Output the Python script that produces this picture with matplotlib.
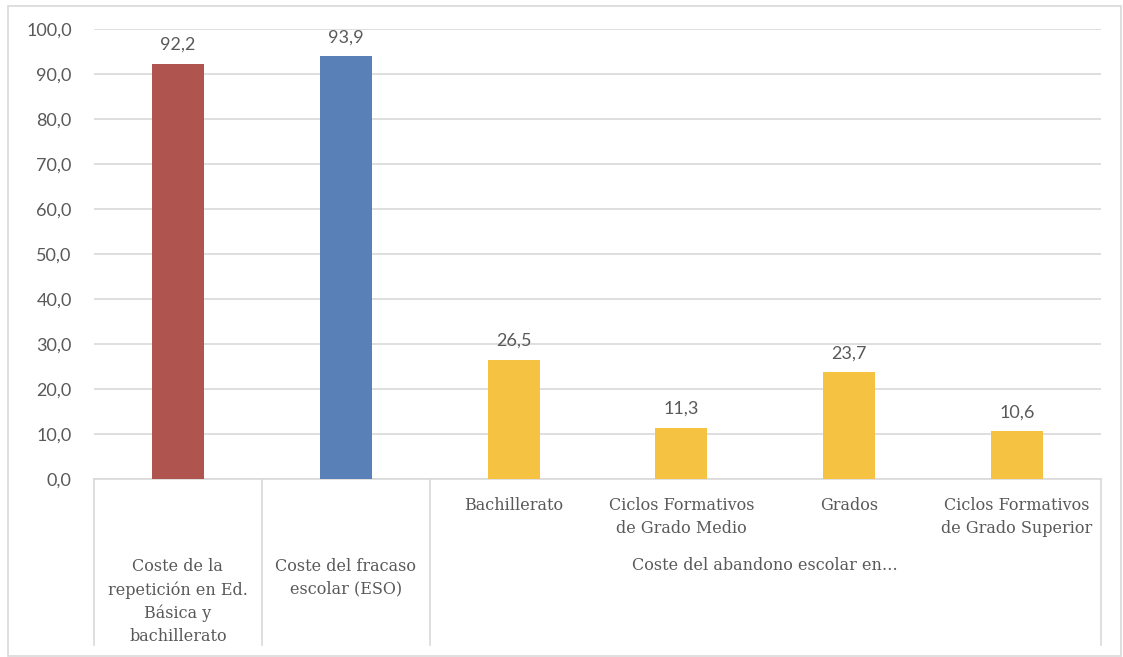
import matplotlib
matplotlib.use("Agg")
import matplotlib.pyplot as plt
from matplotlib.patches import Rectangle
import matplotlib.transforms as mtransforms

categories = ["Coste de la\nrepetición en Ed.\nBásica y\nbachillerato",
              "Coste del fracaso\nescolar (ESO)",
              "Bachillerato",
              "Ciclos Formativos\nde Grado Medio",
              "Grados",
              "Ciclos Formativos\nde Grado Superior"]
values = [92.2, 93.9, 26.5, 11.3, 23.7, 10.6]
value_labels = ["92,2", "93,9", "26,5", "11,3", "23,7", "10,6"]
group_label = "Coste del abandono escolar en…"
yticks = [0, 10, 20, 30, 40, 50, 60, 70, 80, 90, 100]
ytick_labels = ["0,0", "10,0", "20,0", "30,0", "40,0", "50,0", "60,0", "70,0", "80,0", "90,0", "100,0"]
colors = ["#B0544F", "#5A80B8", "#F5C242", "#F5C242", "#F5C242", "#F5C242"]

W, H = 1123, 657
SERIF = "DejaVu Serif"
SANS = "Lato"
TXT = "#595959"
GRID = "#D9D9D9"

fig = plt.figure(figsize=(W / 100, H / 100), dpi=100)
fig.patch.set_facecolor("white")

def fx(px):
    return px / W

def fy(py):
    return 1 - py / H

# figure border
fig.patches.append(Rectangle((fx(8), fy(656)), fx(1121) - fx(8), fy(6) - fy(656),
                             transform=fig.transFigure, fill=False,
                             edgecolor=GRID, linewidth=1.2))

ax = fig.add_axes([fx(94), fy(479), fx(1101) - fx(94), fy(29) - fy(479)])
x = list(range(len(values)))
ax.bar(x, values, width=0.31, color=colors, zorder=3)
ax.set_xlim(-0.5, 5.5)
ax.set_ylim(0, 100)
ax.set_yticks(yticks)
ax.set_yticklabels(ytick_labels, fontfamily=SANS, fontsize=13, color=TXT)
ax.tick_params(axis="y", length=0, pad=16)
ax.set_xticks([])
ax.grid(axis="y", color=GRID, linewidth=1.2, zorder=0)
for s in ["top", "right", "left"]:
    ax.spines[s].set_visible(False)
ax.spines["bottom"].set_color(GRID)
ax.spines["bottom"].set_linewidth(1.2)

for xi, v, lab in zip(x, values, value_labels):
    ax.annotate(lab, (xi, v), xytext=(0, 8), textcoords="offset points",
                ha="center", va="bottom", fontfamily=SANS, fontsize=13, color=TXT)

# category separators
trans = mtransforms.blended_transform_factory(ax.transData, ax.transAxes)
box_bottom = -(645 - 479) / 450
for xs in [-0.5, 0.5, 1.5, 5.5]:
    ax.plot([xs, xs], [0, box_bottom], transform=trans, color=GRID,
            linewidth=1.2, clip_on=False)

def ay(py):
    return -(py - 479) / 450

for i, cat in enumerate(categories):
    top = 558 if i < 2 else 497
    ax.text(i, ay(top), cat, transform=trans, ha="center", va="top",
            fontfamily=SERIF, fontsize=11.5, color=TXT, linespacing=1.45)

ax.text(3.5, ay(565), group_label, transform=trans, ha="center", va="center",
        fontfamily=SERIF, fontsize=11.5, color=TXT)

fig.savefig("out.png", dpi=100)
